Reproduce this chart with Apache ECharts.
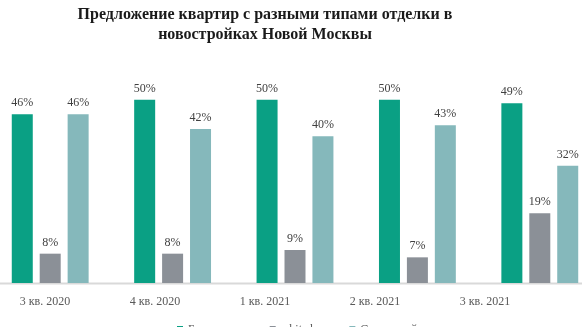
<!DOCTYPE html>
<html>
<head>
<meta charset="utf-8">
<script src="https://cdn.jsdelivr.net/npm/echarts@6/dist/echarts.min.js"></script>
<style>
  html, body { margin: 0; padding: 0; background: #ffffff; overflow: hidden; }
  #chart { width: 582px; height: 327px; }
</style>
</head>
<body>
<div id="chart"></div>
<script>
// Quarters shown on the horizontal axis
const quarters = ['3 кв. 2020', '4 кв. 2020', '1 кв. 2021', '2 кв. 2021', '3 кв. 2021'];

// Share of offers by finishing type, %
const noFinish = [46, 50, 50, 50, 49];
const whiteBox = [8, 8, 9, 7, 19];
const withFinish = [46, 42, 40, 43, 32];

const seriesNames = ['Без отделки', 'white box', 'С отделкой'];
const colors = ['#0aa084', '#8b9097', '#85b8bb'];

const chart = echarts.init(document.getElementById('chart'));

const labelStyle = {
  show: true,
  position: 'top',
  distance: 5,
  formatter: '{c}%',
  fontFamily: 'Liberation Serif',
  fontSize: 12,
  color: '#404040'
};

function barSeries(name, data, color) {
  return {
    name: name,
    type: 'bar',
    xAxisIndex: 0,
    yAxisIndex: 0,
    data: data,
    barWidth: 21,
    barGap: '33%',
    itemStyle: { color: color },
    label: labelStyle
  };
}

chart.setOption({
  animation: false,
  backgroundColor: '#ffffff',
  title: {
    text: 'Предложение квартир с разными типами отделки в\nновостройках Новой Москвы',
    left: 260,
    textAlign: 'center',
    top: 0,
    textStyle: {
      fontFamily: 'Liberation Serif',
      fontWeight: 'bold',
      fontSize: 16,
      lineHeight: 20,
      color: '#1a1a1a'
    }
  },
  legend: {
    data: seriesNames,
    left: 172,
    top: 319,
    itemWidth: 6,
    itemHeight: 8,
    itemGap: 21,
    icon: 'rect',
    textStyle: {
      fontFamily: 'Liberation Serif',
      fontSize: 12,
      color: '#595959'
    }
  },
  grid: [
    { left: -11, right: -19, top: 63, bottom: 44, outerBoundsMode: 'none' },
    { left: -10, right: 42, top: 63, bottom: 44, outerBoundsMode: 'none' }
  ],
  xAxis: [
    {
      type: 'category',
      gridIndex: 0,
      data: quarters,
      axisLine: { show: false },
      axisTick: { show: false },
      axisLabel: { show: false }
    },
    {
      type: 'category',
      gridIndex: 1,
      data: quarters,
      axisLine: { show: false },
      axisTick: { show: false },
      axisLabel: {
        margin: 13,
        fontFamily: 'Liberation Serif',
        fontSize: 12,
        color: '#595959'
      }
    }
  ],
  yAxis: [
    { type: 'value', gridIndex: 0, min: 0, max: 60, show: false },
    { type: 'value', gridIndex: 1, min: 0, max: 60, show: false }
  ],
  graphic: [
    {
      type: 'line',
      shape: { x1: 0, y1: 283.5, x2: 582, y2: 283.5 },
      style: { stroke: '#d9d9d9', lineWidth: 2 },
      z: 0
    }
  ],
  series: [
    barSeries(seriesNames[0], noFinish, colors[0]),
    barSeries(seriesNames[1], whiteBox, colors[1]),
    barSeries(seriesNames[2], withFinish, colors[2])
  ]
});
</script>
</body>
</html>
